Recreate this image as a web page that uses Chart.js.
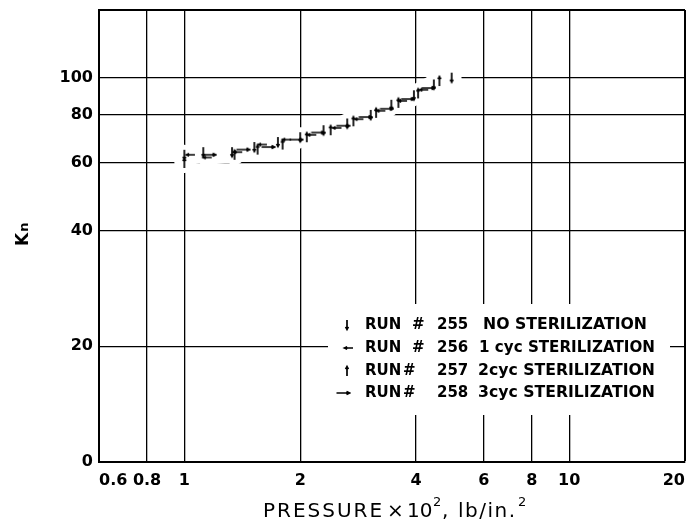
<!DOCTYPE html>
<html><head><meta charset="utf-8">
<script src="https://cdn.jsdelivr.net/npm/chart.js@4/dist/chart.umd.min.js"></script>
<style>html,body{margin:0;padding:0;background:#fff}canvas{display:block}</style>
</head><body>
<canvas id="c" width="699" height="526"></canvas>
<script>
// ---- data ----
const xTicks = [0.6, 0.8, 1, 2, 4, 6, 8, 10, 20];
const xTickLabels = ['0.6', '0.8', '1', '2', '4', '6', '8', '10', '20'];
const yTicks = [10, 20, 40, 60, 80, 100, 150];
const yTickLabels = ['0', '20', '40', '60', '80', '100', ''];

const run255 = [[1.00,63],[1.12,64],[1.33,64],[1.52,66],[1.75,68],[2.00,70],[2.30,73],[2.65,76],[3.05,80],[3.45,85],[3.95,90],[4.45,96],[4.95,100]];
const run256 = [[1.04,63],[1.15,62],[1.38,64],[1.60,67],[1.85,69],[2.15,71],[2.50,74],[2.85,78],[3.25,82],[3.70,87],[4.20,93]];
const run257 = [[1.00,60],[1.35,63],[1.55,65],[1.80,67],[2.08,70],[2.40,73],[2.75,77],[3.15,81],[3.60,86],[4.05,91],[4.60,98]];
const run258 = [[1.16,63],[1.42,65],[1.65,66],[1.95,69],[2.22,72],[2.58,75],[2.95,79],[3.35,83],[3.80,88],[4.30,94]];

const legendRuns = ['255', '256', '257', '258'];
const legendDesc = ['NO STERILIZATION', '1 cyc STERILIZATION', '2cyc STERILIZATION', '3cyc STERILIZATION'];
const xTitle = ['PRESSURE', '\u00D7', '10', '2', ',', 'lb/in.', '2'];
const yTitle = ['K', 'n'];

// ---- marker glyphs ----
function mk(dir){
  const c = document.createElement('canvas'); c.width = 16; c.height = 16;
  const g = c.getContext('2d'); g.strokeStyle = '#000'; g.lineWidth = 1.7;
  g.beginPath();
  if (dir === 'down'){ g.moveTo(8,3); g.lineTo(8,12); g.moveTo(6.6,9.8); g.lineTo(8,12.5); g.lineTo(9.4,9.8); }
  if (dir === 'up'){ g.moveTo(8,4); g.lineTo(8,13); g.moveTo(6.6,6.2); g.lineTo(8,3.5); g.lineTo(9.4,6.2); }
  if (dir === 'left'){ g.moveTo(4,8); g.lineTo(12,8); g.moveTo(6.2,6.8); g.lineTo(3.5,8); g.lineTo(6.2,9.2); }
  if (dir === 'right'){ g.moveTo(1.5,8); g.lineTo(14,8); g.moveTo(11.5,6.6); g.lineTo(14.5,8); g.lineTo(11.5,9.4); }
  g.stroke();
  return c;
}
const marks = [mk('down'), mk('left'), mk('up'), mk('right')];
const series = [run255, run256, run257, run258];
const allPoints = series.flat().slice().sort((a, b) => a[0] - b[0]);

const FONT = 'DejaVu Sans';

const overlay = {
  id: 'overlay',
  beforeDatasetsDraw(chart){
    const g = chart.ctx;
    g.save();
    g.fillStyle = '#fff';
    g.fillRect(328, 304, 342, 111);
    g.fillStyle = '#000';
    g.font = 'bold 15px "' + FONT + '"';
    g.textBaseline = 'middle';
    g.textAlign = 'left';
    const rows = [325, 348, 371, 393];
    const symX = [347, 349, 347, 343];
    const hashX = [412, 412, 403, 403];
    const descX = [483, 479, 478, 478];
    const descW = [164, 176, 177, 177];
    rows.forEach((y, i) => {
      g.drawImage(marks[i], symX[i] - 8, y - 8);
      g.fillText('RUN', 365, y);
      g.fillText('#', hashX[i], y);
      g.fillText(legendRuns[i], 437, y);
      const m = g.measureText(legendDesc[i]).width;
      g.save();
      g.translate(descX[i], y);
      g.scale(descW[i] / m, 1);
      g.fillText(legendDesc[i], 0, 0);
      g.restore();
    });
    g.restore();
  },
  afterDraw(chart){
    const g = chart.ctx;
    g.save();
    g.fillStyle = '#000';
    g.textBaseline = 'alphabetic';
    g.textAlign = 'left';
    // x title
    const parts = [
      {t: xTitle[0], x: 263, y: 517, f: '20px', ls: 2},
      {t: xTitle[1], x: 387, y: 517, f: '20px', ls: 0},
      {t: xTitle[2], x: 407, y: 517, f: '20px', ls: 0},
      {t: xTitle[3], x: 433, y: 506, f: '13px', ls: 0},
      {t: xTitle[4], x: 442, y: 517, f: '20px', ls: 0},
      {t: xTitle[5], x: 458, y: 517, f: '20px', ls: 1.5},
      {t: xTitle[6], x: 518, y: 506, f: '13px', ls: 0}
    ];
    parts.forEach(p => {
      g.font = p.f + ' "' + FONT + '"';
      g.letterSpacing = p.ls + 'px';
      g.fillText(p.t, p.x, p.y);
    });
    g.letterSpacing = '0px';
    // y title
    g.translate(28, 246);
    g.rotate(-Math.PI / 2);
    g.font = 'bold 17px "' + FONT + '"';
    g.fillText(yTitle[0], 0, 0);
    const kw = g.measureText(yTitle[0]).width;
    g.font = 'bold 13px "' + FONT + '"';
    g.fillText(yTitle[1], kw + 1, 0);
    g.restore();
  }
};

const tickFont = {family: FONT, size: 16, weight: 'bold'};

const datasets = series.map((s, i) => ({
  data: s.map(p => ({x: p[0], y: p[1]})),
  pointStyle: marks[i],
  pointRadius: 6,
  showLine: false,
  order: 0
}));
// white band along the data that interrupts the grid, as in the original drawing
datasets.push({
  data: allPoints.map(p => ({x: p[0], y: p[1]})),
  showLine: true,
  borderColor: '#fff',
  borderWidth: 20,
  borderCapStyle: 'round',
  borderJoinStyle: 'round',
  pointRadius: 0,
  order: 10
});

new Chart(document.getElementById('c'), {
  type: 'scatter',
  data: {datasets},
  options: {
    responsive: false,
    animation: false,
    devicePixelRatio: 1,
    layout: {padding: {top: 10, right: 14, left: 0, bottom: 0}},
    plugins: {legend: {display: false}, tooltip: {enabled: false}},
    scales: {
      x: {
        type: 'logarithmic', min: 0.6, max: 20,
        afterBuildTicks: s => { s.ticks = xTicks.map(v => ({value: v})); },
        afterFit: s => { s.height = 64; s.paddingLeft = 0; s.paddingRight = 0; },
        ticks: {
          autoSkip: false, maxRotation: 0, minRotation: 0, align: 'inner', padding: 9,
          color: '#000', font: tickFont,
          callback: v => { const i = xTicks.indexOf(v); return i >= 0 ? xTickLabels[i] : ''; }
        },
        grid: {color: '#000', drawTicks: false, lineWidth: c => (c.tick && c.tick.value === 20) ? 2 : 1.3},
        border: {color: '#000', width: 2}
      },
      y: {
        type: 'logarithmic', min: 10, max: 150,
        afterBuildTicks: s => { s.ticks = yTicks.map(v => ({value: v})); },
        afterFit: s => { s.width = 99; s.paddingTop = 0; s.paddingBottom = 0; },
        ticks: {
          autoSkip: false, padding: 6, color: '#000', font: tickFont,
          callback: v => { const i = yTicks.indexOf(v); return i >= 0 ? yTickLabels[i] : ''; }
        },
        grid: {color: '#000', drawTicks: false, lineWidth: c => (c.tick && c.tick.value === 150) ? 2 : 1.3},
        border: {color: '#000', width: 2}
      }
    }
  },
  plugins: [overlay]
});
</script>
</body></html>
